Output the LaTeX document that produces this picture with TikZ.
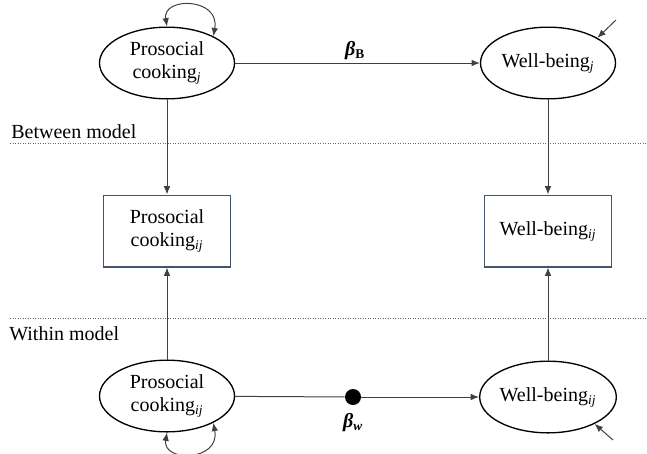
\documentclass[tikz,border=0pt]{standalone}
\usepackage{fontspec}
\setmainfont{Liberation Serif}
\usetikzlibrary{arrows.meta,shapes.geometric}
\definecolor{boxblue}{RGB}{68,84,106}
\begin{document}
\begin{tikzpicture}[x=0.6pt,y=-0.6pt,
        font=\fontsize{12}{13.5}\selectfont,
        latent/.style={draw,ellipse,line width=0.8pt,inner sep=0pt,
            minimum width=81pt,minimum height=43pt,align=center},
        observed/.style={draw=boxblue,line width=0.8pt,inner sep=0pt,
            minimum width=76pt,minimum height=43pt,align=center},
        regpath/.style={draw=black!75,line width=0.6pt,-{Latex[length=5pt,width=4pt]}},
        divider/.style={densely dotted,black!60,line width=0.5pt}]
    \useasboundingbox (0,0) rectangle (647,453);

    % between level
    \node[latent] (pcB) at (167,63) {Prosocial\\cooking\textsubscript{\itshape j}};
    \node[latent] (wbB) at (548,63) {Well-being\textsubscript{\itshape j}};
    % observed
    \node[observed] (pcO) at (167,231) {Prosocial\\cooking\textsubscript{\itshape ij}};
    \node[observed] (wbO) at (548,231) {Well-being\textsubscript{\itshape ij}};
    % within level
    \node[latent] (pcW) at (167,396) {Prosocial\\cooking\textsubscript{\itshape ij}};
    \node[latent] (wbW) at (548,397) {Well-being\textsubscript{\itshape ij}};
    \node[circle,fill=black,inner sep=0pt,minimum size=9.6pt] (bw) at (353,397) {};

    \node (bwlab) at (353,423) {\bfseries\itshape β\textsubscript{w}};
    \node (bblab) at (355,51) {\bfseries\itshape β\textsubscript{\upshape B}};

    \node[anchor=base west,inner sep=0pt] (btw) at (11,138) {Between model};
    \node[anchor=base west,inner sep=0pt] (wth) at (9,340) {Within model};
    \draw[divider] (10,143) -- (647,143);
    \draw[divider] (10,318) -- (647,318);

    \coordinate (eB) at (616,20);
    \coordinate (eW) at (613,440);

    \draw[regpath] (pcB) -- (wbB);
    \draw[regpath] (pcB) -- (pcO);
    \draw[regpath] (wbB) -- (wbO);
    \draw[regpath] (pcW) -- (pcO);
    \draw[regpath] (wbW) -- (wbO);
    \draw[draw=black!75,line width=0.6pt] (pcW) -- (bw);
    \draw[regpath] (bw) -- (wbW);
    \draw[regpath] (eB) -- (wbB.27);
    \draw[regpath] (eW) -- (wbW.-30);

    % variances
    \draw[regpath,{Latex[length=5pt,width=4pt]}-{Latex[length=5pt,width=4pt]}]
        (pcB.90) .. controls +(-5,-30) and +(7,-39) .. (pcB.30);
    \draw[regpath,{Latex[length=5pt,width=4pt]}-{Latex[length=5pt,width=4pt]}]
        (pcW.270) .. controls +(-5,30) and +(7,39) .. (pcW.-30);
\end{tikzpicture}
\end{document}
